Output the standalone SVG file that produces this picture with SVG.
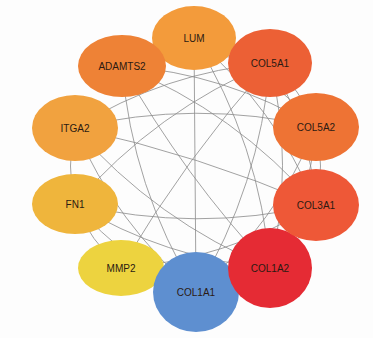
<svg xmlns="http://www.w3.org/2000/svg" width="373" height="338" viewBox="0 0 373 338">
<style>
.e{fill:none;stroke:#8a8a8a;stroke-width:0.8}
.t{font-family:"Liberation Sans",Arial,sans-serif;font-size:10px;fill:#2b1a12;text-anchor:middle;dominant-baseline:central}
</style>
<rect width="373" height="338" fill="#fdfdfd"/>
<g id="connectors">
<path class="e" d="M122,66 Q132,188 196,292"/>
<path class="e" d="M122,66 Q184,176 270,268"/>
<path class="e" d="M122,66 Q236,112 316,205"/>
<path class="e" d="M122,66 Q226,73 316,127"/>
<path class="e" d="M122,66 Q196,47 270,63"/>
<path class="e" d="M122,66 Q155,43 194,38"/>
<path class="e" d="M194,38 Q195,165 196,292"/>
<path class="e" d="M194,38 Q260,144 270,268"/>
<path class="e" d="M194,38 Q275,107 316,205"/>
<path class="e" d="M194,38 Q266,68 316,127"/>
<path class="e" d="M194,38 Q235,41 270,63"/>
<path class="e" d="M270,63 Q260,186 196,292"/>
<path class="e" d="M270,63 Q295,165 270,268"/>
<path class="e" d="M270,63 Q310,128 316,205"/>
<path class="e" d="M270,63 Q301,89 316,127"/>
<path class="e" d="M270,63 Q156,110 75,204"/>
<path class="e" d="M270,63 Q165,72 75,128"/>
<path class="e" d="M270,63 Q186,158 121,268"/>
<path class="e" d="M316,127 Q276,224 196,292"/>
<path class="e" d="M316,127 Q310,203 270,268"/>
<path class="e" d="M316,127 Q325,166 316,205"/>
<path class="e" d="M316,127 Q196,99 75,128"/>
<path class="e" d="M75,128 Q116,224 196,292"/>
<path class="e" d="M75,128 Q156,221 270,268"/>
<path class="e" d="M75,128 Q199,155 316,205"/>
<path class="e" d="M75,128 Q66,166 75,204"/>
<path class="e" d="M75,204 Q125,263 196,292"/>
<path class="e" d="M75,204 Q165,259 270,268"/>
<path class="e" d="M75,204 Q196,233 316,205"/>
<path class="e" d="M75,204 Q90,241 121,268"/>
<path class="e" d="M121,268 Q156,289 196,292"/>
<path class="e" d="M121,268 Q196,286 270,268"/>
<path class="e" d="M121,268 Q226,260 316,205"/>
<path class="e" d="M316,205 Q266,263 196,292"/>
<path class="e" d="M316,205 Q300,245 270,268"/>
<path class="e" d="M270,268 Q235,285 196,292"/>
</g>
<g id="LUM"><ellipse cx="194" cy="38" rx="42" ry="32" fill="#F39B3B"/><text class="t" x="194" y="38">LUM</text></g>
<g id="ADAMTS2"><ellipse cx="122" cy="66" rx="44" ry="31" fill="#EE8236"/><text class="t" x="122" y="66">ADAMTS2</text></g>
<g id="COL5A1"><ellipse cx="270" cy="63" rx="42" ry="34" fill="#EC6035"/><text class="t" x="270" y="63">COL5A1</text></g>
<g id="COL5A2"><ellipse cx="316" cy="127" rx="43" ry="34" fill="#EE7334"/><text class="t" x="316" y="127">COL5A2</text></g>
<g id="ITGA2"><ellipse cx="75" cy="128" rx="43" ry="33" fill="#F1A23F"/><text class="t" x="75" y="128">ITGA2</text></g>
<g id="FN1"><ellipse cx="75" cy="204" rx="43" ry="30" fill="#EFB53C"/><text class="t" x="75" y="204">FN1</text></g>
<g id="MMP2"><ellipse cx="121" cy="268" rx="43" ry="28" fill="#EDD33F"/><text class="t" x="121" y="268">MMP2</text></g>
<g id="COL1A1"><ellipse cx="196" cy="292" rx="43" ry="40" fill="#5E8FD0"/><text class="t" x="196" y="292">COL1A1</text></g>
<g id="COL1A2"><ellipse cx="270" cy="268" rx="42" ry="40" fill="#E52B34"/><text class="t" x="270" y="268">COL1A2</text></g>
<g id="COL3A1"><ellipse cx="316" cy="205" rx="43" ry="36" fill="#EE5837"/><text class="t" x="316" y="205">COL3A1</text></g>
</svg>
